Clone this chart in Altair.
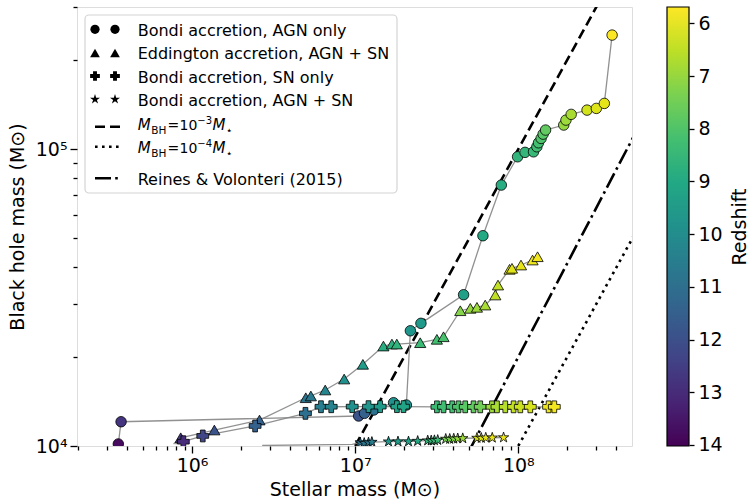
import altair as alt
import pandas as pd
import math

# ---------------- data ----------------
# Bondi accretion, AGN only (circles)
c_mstar = [3.53e5, 3.67e5, 1.05e7, 1.14e7, 1.30e7, 1.72e7, 2.06e7, 2.18e7, 2.53e7,
           4.62e7, 6.07e7, 7.87e7, 9.90e7, 1.10e8, 1.24e8, 1.30e8, 1.33e8, 1.38e8,
           1.42e8, 1.47e8, 1.90e8, 1.96e8, 2.11e8, 2.64e8, 3.01e8, 3.37e8, 3.76e8]
c_mbh = [1.016e4, 1.207e4, 1.262e4, 1.288e4, 1.322e4, 1.399e4, 1.374e4, 2.444e4, 2.589e4,
         3.232e4, 5.107e4, 7.565e4, 9.42e4, 9.75e4, 9.79e4, 1.018e5, 1.050e5, 1.086e5,
         1.123e5, 1.159e5, 1.205e5, 1.252e5, 1.309e5, 1.353e5, 1.371e5, 1.425e5, 2.421e5]
c_z = [13.8, 12.75, 11.9, 11.5, 10.9, 9.85, 9.75, 9.7, 9.5,
       9.25, 9.0, 8.85, 8.6, 8.5, 8.4, 8.25, 8.2, 8.0,
       7.85, 7.7, 7.0, 6.9, 6.75, 6.25, 6.1, 6.0, 5.7]

# Eddington accretion, AGN + SN (triangles)
t_mstar = [8.52e5, 1.37e6, 2.59e6, 4.98e6, 5.35e6, 6.55e6, 8.56e6, 1.115e7, 1.49e7,
           1.68e7, 1.80e7, 2.505e7, 3.17e7, 3.48e7, 4.41e7, 5.08e7, 5.58e7, 6.27e7,
           7.23e7, 7.51e7, 8.84e7, 9.15e7, 1.039e8, 1.223e8, 1.313e8]
t_mbh = [1.066e4, 1.132e4, 1.223e4, 1.454e4, 1.474e4, 1.544e4, 1.681e4, 1.884e4, 2.171e4,
         2.205e4, 2.205e4, 2.228e4, 2.287e4, 2.333e4, 2.855e4, 2.908e4, 2.931e4, 2.983e4,
         3.225e4, 3.484e4, 3.936e4, 3.967e4, 4.069e4, 4.230e4, 4.340e4]
t_z = [12.6, 11.9, 11.5, 10.75, 10.7, 10.25, 9.85, 9.4, 8.85,
       8.7, 8.6, 8.35, 8.2, 8.1, 7.2, 7.0, 6.9, 6.75,
       6.5, 6.45, 6.1, 6.05, 6.0, 5.9, 5.85]
t_line_mstar = [7.7e5]
t_line_mbh = [1.016e4]

# Bondi accretion, SN only (plus)
p_mstar = [8.84e5, 1.163e6, 2.435e6, 4.955e6, 6.17e6, 7.13e6, 9.59e6, 1.207e7, 1.423e7,
           1.803e7, 1.978e7, 3.171e7, 3.481e7, 3.937e7, 4.302e7, 4.729e7, 5.318e7, 5.845e7,
           6.898e7, 7.402e7, 8.323e7, 9.36e7, 1.029e8, 1.185e8, 1.534e8, 1.663e8]
p_mbh = [1.034e4, 1.081e4, 1.168e4, 1.288e4, 1.356e4, 1.356e4, 1.357e4, 1.357e4, 1.357e4,
         1.357e4, 1.357e4, 1.355e4, 1.355e4, 1.355e4, 1.355e4, 1.355e4, 1.355e4, 1.355e4,
         1.355e4, 1.355e4, 1.355e4, 1.355e4, 1.355e4, 1.355e4, 1.355e4, 1.355e4]
p_z = [13.0, 12.3, 11.5, 11.0, 10.5, 10.35, 9.85, 9.7, 9.5,
       9.25, 9.15, 8.35, 8.25, 8.2, 8.0, 7.85, 7.7, 7.5,
       6.9, 6.75, 6.6, 6.45, 6.35, 6.2, 5.9, 5.85]
p_line_mstar = [7.9e5]
p_line_mbh = [1.016e4]

# Bondi accretion, AGN + SN (stars)
s_mstar = [1.073e7, 1.136e7, 1.207e7, 1.266e7, 1.601e7, 1.830e7, 2.123e7, 2.417e7, 2.785e7,
           2.926e7, 3.061e7, 3.207e7, 3.591e7, 3.800e7, 4.021e7, 4.254e7, 4.566e7, 5.580e7,
           5.929e7, 6.318e7, 6.925e7, 8.124e7]
s_mbh = [1.027e4, 1.023e4, 1.027e4, 1.031e4, 1.034e4, 1.035e4, 1.035e4, 1.039e4, 1.043e4,
         1.043e4, 1.045e4, 1.047e4, 1.056e4, 1.056e4, 1.058e4, 1.060e4, 1.061e4, 1.064e4,
         1.064e4, 1.066e4, 1.066e4, 1.068e4]
s_z = [10.9, 10.8, 10.7, 10.6, 9.6, 9.4, 9.25, 9.0, 8.5,
       8.45, 8.4, 8.35, 7.4, 7.3, 7.2, 7.0, 6.9, 6.2,
       6.1, 6.0, 5.95, 5.9]
s_line_mstar = [2.69e6, 9.59e6]
s_line_mbh = [1.004e4, 1.012e4]

# scaling relations
rel1_mstar = [1.0e7, 3.2e8]      # M_BH = 1e-3 M*
rel2_mstar = [1.0e8, 6.0e8]      # M_BH = 1e-4 M*
rv_mstar = [5.0e7, 6.0e8]        # Reines & Volonteri (2015)
RV_ALPHA, RV_BETA = 7.45, 1.05

redshift_ticks = [6, 7, 8, 9, 10, 11, 12, 13, 14]
z_domain = [5.69, 14.02]
x_ticks = [2e5, 3e5, 4e5, 5e5, 6e5, 7e5, 8e5, 9e5, 1e6, 2e6, 3e6, 4e6, 5e6, 6e6, 7e6, 8e6,
           9e6, 1e7, 2e7, 3e7, 4e7, 5e7, 6e7, 7e7, 8e7, 9e7, 1e8, 2e8, 3e8, 4e8]
y_ticks = [1e4, 2e4, 3e4, 4e4, 5e4, 6e4, 7e4, 8e4, 9e4, 1e5, 2e5, 3e5]

# ---------------- helpers ----------------
FONT = "DejaVu Sans"
W, H = 555, 439

def series_df(ms, mb, z=None):
    d = {"mstar": ms, "mbh": mb, "i": list(range(len(ms)))}
    if z is not None:
        d["z"] = z
    return pd.DataFrame(d)

xscale = alt.Scale(type="log", domain=[1.97e5, 4.98e8], nice=False)
yscale = alt.Scale(type="log", domain=[1.0e4, 3.01e5], nice=False)

xmajor = "datum.value == 1000000 || datum.value == 10000000 || datum.value == 100000000"
ymajor = "datum.value == 10000 || datum.value == 100000"

xaxis = alt.Axis(values=x_ticks,
                 labelExpr="datum.value == 1000000 ? '10⁶' : datum.value == 10000000 ? '10⁷' : datum.value == 100000000 ? '10⁸' : ''",
                 tickSize={"condition": {"test": xmajor, "value": 7}, "value": 4},
                 tickWidth=1.3, tickColor="black", domain=False, grid=False,
                 labelFont=FONT, labelFontSize=19, labelColor="black", labelPadding=3,
                 labelOverlap=False, labelFlush=False,
                 titleFont=FONT, titleFontSize=19, titleFontWeight="normal",
                 titleColor="black", titlePadding=5)
yaxis = alt.Axis(values=y_ticks,
                 labelExpr="datum.value == 10000 ? '10⁴' : datum.value == 100000 ? '10⁵' : ''",
                 tickSize={"condition": {"test": ymajor, "value": 7}, "value": 4},
                 tickWidth=1.3, tickColor="black", domain=False, grid=False,
                 labelFont=FONT, labelFontSize=19, labelColor="black", labelPadding=3,
                 labelOverlap=False, labelFlush=False,
                 titleFont=FONT, titleFontSize=19, titleFontWeight="normal",
                 titleColor="black", titlePadding=8)

X = alt.X("mstar:Q", scale=xscale, axis=xaxis, title="Stellar mass (M⊙)")
Y = alt.Y("mbh:Q", scale=yscale, axis=yaxis, title="Black hole mass (M⊙)")
FILL = alt.Fill("z:Q", scale=alt.Scale(scheme="viridis", domain=z_domain, reverse=True),
                legend=None)

STAR = ("M0,-1L0.2245,-0.309L0.9511,-0.309L0.3633,0.118L0.5878,0.809L0,0.382"
        "L-0.5878,0.809L-0.3633,0.118L-0.9511,-0.309L-0.2245,-0.309Z")

# ---------------- reference relations ----------------
def rel_df(ms, fn):
    return pd.DataFrame({"mstar": ms, "mbh": [fn(m) for m in ms], "i": list(range(len(ms)))})

rel1 = rel_df(rel1_mstar, lambda m: 1e-3 * m)
rel2 = rel_df(rel2_mstar, lambda m: 1e-4 * m)
rv = rel_df(rv_mstar, lambda m: 10 ** (RV_ALPHA + RV_BETA * (math.log10(m) - 11)))

layers = []
for d, dash in [(rel1, [10, 5]), (rel2, [2.6, 4.4]), (rv, [16, 4.2, 2.6, 4.2])]:
    layers.append(alt.Chart(d).mark_line(color="black", strokeWidth=2.6, strokeDash=dash,
                                         clip=True).encode(x=X, y=Y, order="i:Q"))

# ---------------- gray tracks ----------------
tracks = [
    series_df(c_mstar, c_mbh),
    series_df(t_line_mstar + t_mstar, t_line_mbh + t_mbh),
    series_df(p_line_mstar + p_mstar, p_line_mbh + p_mbh),
    series_df(s_line_mstar + s_mstar, s_line_mbh + s_mbh),
]
for d in tracks:
    layers.append(alt.Chart(d).mark_line(color="#858585", strokeWidth=1.3, opacity=0.9,
                                         clip=True).encode(x=X, y=Y, order="i:Q"))

# ---------------- markers ----------------
for (ms, mb, z, shape, size) in [
    (c_mstar, c_mbh, c_z, "circle", 110),
    (t_mstar, t_mbh, t_z, "triangle-up", 125),
    (p_mstar, p_mbh, p_z, "cross", 140),
    (s_mstar, s_mbh, s_z, STAR, 120),
]:
    layers.append(alt.Chart(series_df(ms, mb, z)).mark_point(
        shape=shape, filled=True, size=size, stroke="black", strokeWidth=0.8,
        opacity=1, clip=True).encode(x=X, y=Y, fill=FILL))

# ---------------- legend box ----------------
one = pd.DataFrame({"a": [0]})
layers.append(alt.Chart(one).mark_rect(fill="white", stroke="#d2d2d2", strokeWidth=1.2,
                                       cornerRadius=4, opacity=0.95).encode(
    x=alt.value(8), x2=alt.value(320), y=alt.value(8), y2=alt.value(186)))

def sym(shape, x, y, size):
    return alt.Chart(one).mark_point(shape=shape, filled=True, size=size, color="black",
                                     opacity=1).encode(x=alt.value(x), y=alt.value(y))

def txt(s, x, y, size=16, style="normal"):
    return alt.Chart(one).mark_text(text=s, font=FONT, fontSize=size, fontStyle=style,
                                    align="left", baseline="alphabetic", color="black").encode(
        x=alt.value(x), y=alt.value(y))

def seg(y, dash):
    return alt.Chart(one).mark_rule(color="black", strokeWidth=2.6, strokeDash=dash).encode(
        x=alt.value(18), x2=alt.value(43), y=alt.value(y))

rows = [("circle", 22.3, 85, "Bondi accretion, AGN only", 29),
        ("triangle-up", 46, 95, "Eddington accretion, AGN + SN", 52.3),
        ("cross", 69, 95, "Bondi accretion, SN only", 75.7),
        (STAR, 92.3, 110, "Bondi accretion, AGN + SN", 99)]
for shape, ym, size, label, yb in rows:
    layers.append(sym(shape, 18, ym, size))
    layers.append(sym(shape, 38, ym, size))
    layers.append(txt(label, 60.7, yb))

for yl, yb, exp, dash in [(119.7, 123, "−3", [10, 5]), (139.7, 146.3, "−4", [2.6, 4.4])]:
    layers.append(seg(yl, dash))
    layers.append(txt("M", 60.7, yb, size=15, style="italic"))
    layers.append(txt("BH", 74.2, yb + 3.5, size=10.5))
    layers.append(txt("=", 90.5, yb, size=14))
    layers.append(txt("10", 102.5, yb, size=14))
    layers.append(txt(exp, 120.3, yb - 6.5, size=10))
    layers.append(txt("M", 135.5, yb, size=15, style="italic"))
    layers.append(txt("⋆", 148.8, yb + 3.5, size=11))
layers.append(seg(171.3, [16, 4.2, 2.6, 4.2]))
layers.append(txt("Reines & Volonteri (2015)", 60.7, 178))

main = alt.layer(*layers)

# ---------------- colorbar ----------------
viridis_top_to_bottom = ["#fde725", "#bddf26", "#7ad151", "#44bf70", "#22a884", "#21918c",
                         "#2a788e", "#355f8d", "#414487", "#482475", "#440154"]
grad = alt.Gradient(gradient="linear", x1=0, x2=0, y1=0, y2=1,
                    stops=[alt.GradientStop(offset=i / 10, color=c)
                           for i, c in enumerate(viridis_top_to_bottom)])
cb_df = pd.DataFrame({"ztop": [z_domain[0]], "zbot": [z_domain[1]]})
cbar = alt.Chart(cb_df).mark_rect(fill=grad, stroke="black", strokeWidth=1.2).encode(
    x=alt.value(590), x2=alt.value(612),
    y=alt.Y("ztop:Q", scale=alt.Scale(domain=z_domain, reverse=True, nice=False, zero=False),
            axis=alt.Axis(orient="right", offset=57, values=redshift_ticks, tickSize=5,
                          tickWidth=1.3, tickColor="black", domain=False, grid=False,
                          labelFont=FONT, labelFontSize=19, labelColor="black",
                          labelPadding=4, labelOverlap=False, labelFlush=False,
                          title="Redshift", titleAngle=270, titleBaseline="top",
                          titleFont=FONT, titleFontSize=19, titleFontWeight="normal",
                          titleColor="black", titlePadding=8)),
    y2="zbot:Q")

chart = alt.layer(main, cbar).resolve_scale(y="independent").properties(
    width=W, height=H,
    padding={"left": 77, "top": 7, "right": 118, "bottom": 57},
    autosize=alt.AutoSizeParams(type="none"),
    background="white",
).configure_view(stroke="black", strokeWidth=1.5).configure(font=FONT)

chart.save("out.html", embed_options={"renderer": "svg", "actions": False})
